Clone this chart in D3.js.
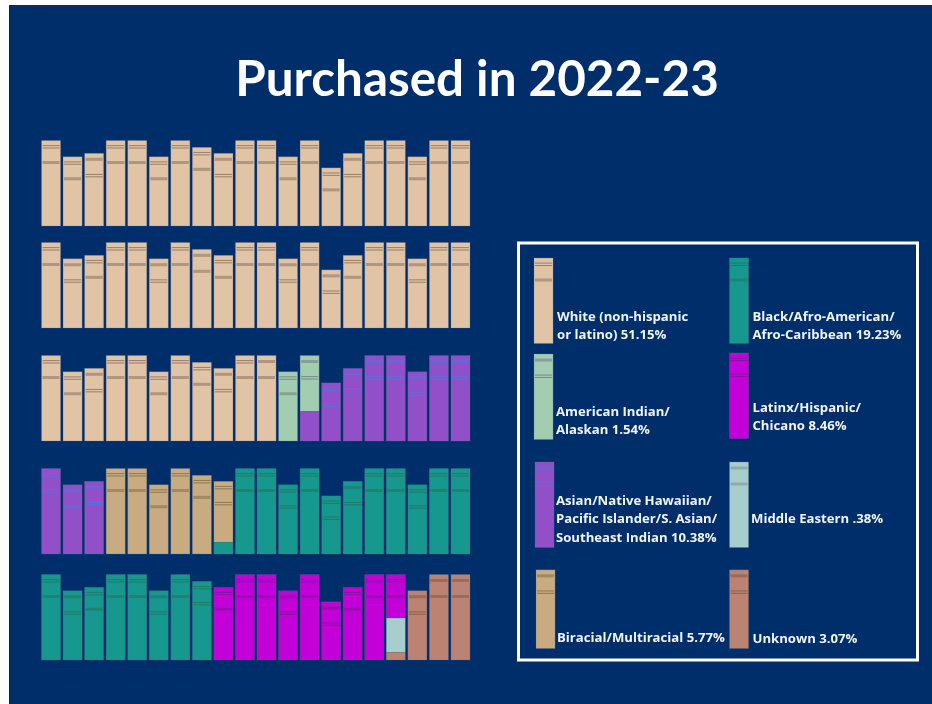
<!DOCTYPE html>
<html>
<head>
<meta charset="utf-8">
<script src="https://cdn.jsdelivr.net/npm/d3@7"></script>
<style>
  html, body { margin: 0; background: #fff; overflow: hidden; }
  text { font-family: "Open Sans", sans-serif; }
</style>
</head>
<body>
<div id="chart"></div>
<script>
// Categories and their share of purchased books
const categories = ["white", "black", "indian", "latinx", "asian", "middle", "biracial", "unknown"];
const legendLines = [
    ["White (non-hispanic", "or latino) 51.15%"],
    ["Black/Afro-American/", "Afro-Caribbean 19.23%"],
    ["American Indian/", "Alaskan 1.54%"],
    ["Latinx/Hispanic/", "Chicano 8.46%"],
    ["Asian/Native Hawaiian/", "Pacific Islander/S. Asian/", "Southeast Indian 10.38%"],
    ["Middle Eastern .38%"],
    ["Biracial/Multiracial 5.77%"],
    ["Unknown 3.07%"]
];
const legendHeights = [100, 100, 100, 100, 100, 100, 92, 92];
const legendBands = ["ds", "ds", "sd", "dd", "sd", "ss", "sd", "sd"];

// Relative height of the 20 books on every shelf
const bookHeights = [100, 81, 85, 100, 100, 81, 100, 92, 85, 100, 100, 81, 100, 68, 85, 100, 100, 81, 100, 100];

// Which category each book belongs to, shelf by shelf
const shelf1 = d3.range(20).map(() => "white");
const shelf2 = d3.range(20).map(() => "white");
const shelf3 = ["white", "white", "white", "white", "white", "white", "white", "white", "white", "white", "white",
    "indian", "indian", "asian", "asian", "asian", "asian", "asian", "asian", "asian"];
const shelf4 = ["asian", "asian", "asian", "biracial", "biracial", "biracial", "biracial", "biracial", "biracial",
    "black", "black", "black", "black", "black", "black", "black", "black", "black", "black", "black"];
const shelf5 = ["black", "black", "black", "black", "black", "black", "black", "black",
    "latinx", "latinx", "latinx", "latinx", "latinx", "latinx", "latinx", "latinx", "latinx",
    "unknown", "unknown", "unknown"];
const shelves = [shelf1, shelf2, shelf3, shelf4, shelf5];

// Books shared between categories: shelf, book, [category, share] from the top down
const splitBooks = [
    [2, 12, [["indian", 0.65], ["asian", 0.35]]],
    [3, 8, [["biracial", 0.84], ["black", 0.16]]],
    [4, 16, [["latinx", 0.51], ["middle", 0.40], ["unknown", 0.09]]]
];

// Spine decoration, d = double line, s = solid band
const bands1 = "ds ds sd ds ds ds ds ds sd ds ds ds ds ds sd ds ds ds ds ds".split(" ");
const bands2 = "ds sd ds ds ds sd ds ss ds ds ds sd ds sd ds ds ds sd ds ds".split(" ");
const bands3 = "ds ds sd ds ds ds ds ds sd ds ss ds sd dd sd sd sd sd sd sd".split(" ");
const bands4 = "dd ss sd ds ds ds ds ds dd ds ds dd ds dd sd ds ds dd ds ds".split(" ");
const bands5 = "ds sd ds ds ds sd ds dd ds ds ds sd ds sd ds ds ds sd ss ss".split(" ");
const shelfBands = [bands1, bands2, bands3, bands4, bands5];

const color = d3.scaleOrdinal()
    .domain(categories)
    .range(["#e1c3a6", "#16988f", "#a2cdb0", "#c300d8", "#9150c8", "#a8cdcd", "#c8ab80", "#bc8272"]);

const bandColor = d3.scaleOrdinal()
    .domain(categories)
    .range(["#7d6a58", "#276f5c", "#6f7280", "#6f1f8c", "#4c78e2", "#77888a", "#786846", "#755646"]);

const svg = d3.select("#chart")
    .append("svg")
    .attr("width", 932)
    .attr("height", 704)
    .style("display", "block");

// The reference is a slightly soft screenshot
const soft = svg.append("defs").append("filter").attr("id", "soft");
soft.append("feGaussianBlur").attr("stdDeviation", 0.45);

svg.append("rect")
    .attr("x", 9)
    .attr("y", 5)
    .attr("width", 923)
    .attr("height", 699)
    .attr("fill", "#002e6b");

svg.append("text")
    .attr("x", 477)
    .attr("y", 96)
    .attr("text-anchor", "middle")
    .attr("fill", "#fff")
    .style("font-family", "Lato, sans-serif")
    .style("font-size", "49.4px")
    .style("font-weight", "700")
    .text("Purchased in 2022-23");

const x = d3.scaleBand()
    .domain(d3.range(20))
    .range([41.5, 470])
    .paddingInner(0.115);

const shelfY = d3.scaleOrdinal()
    .domain(d3.range(5))
    .range([226, 328, 441, 554, 660]);

const bookLength = d3.scaleLinear().domain([0, 100]).range([0, 85.5]);

function drawBook(g, left, bottom, value, parts, kinds) {
    const w = x.bandwidth();
    const h = bookLength(value);
    const top = bottom - h;
    const share = d3.scaleLinear().domain([0, 1]).range([top, bottom]);

    let start = 0;
    parts.forEach(p => {
        g.append("rect")
            .attr("x", left)
            .attr("y", share(start))
            .attr("width", w)
            .attr("height", share(start + p[1]) - share(start))
            .attr("fill", color(p[0]));
        start += p[1];
    });

    // Soft edge round the spine
    g.append("rect")
        .attr("x", left)
        .attr("y", top)
        .attr("width", w)
        .attr("height", h)
        .attr("fill", "none")
        .attr("stroke", "#5b6f90")
        .attr("stroke-opacity", 0.3)
        .attr("stroke-width", 0.8);

    const ink = bandColor(parts[0][0]);
    [6, 22].forEach((offset, i) => {
        if (kinds[i] === "s") {
            g.append("rect")
                .attr("x", left + 1)
                .attr("y", top + offset - 1.5)
                .attr("width", w - 2)
                .attr("height", 3)
                .attr("fill", ink)
                .attr("opacity", 0.5);
        } else {
            [-1.4, 1].forEach(d => {
                g.append("rect")
                    .attr("x", left + 1)
                    .attr("y", top + offset + d)
                    .attr("width", w - 2)
                    .attr("height", 1)
                    .attr("fill", ink)
                    .attr("opacity", 0.75);
            });
        }
    });
}

const bookshelf = svg.append("g").attr("filter", "url(#soft)");
shelves.forEach((shelf, s) => {
    shelf.forEach((cat, b) => {
        const split = splitBooks.find(d => d[0] === s && d[1] === b);
        const parts = split ? split[2] : [[cat, 1]];
        drawBook(bookshelf.append("g"), x(b), shelfY(s), bookHeights[b], parts, shelfBands[s][b]);
    });
});

// Legend
svg.append("rect")
    .attr("x", 518.5)
    .attr("y", 243)
    .attr("width", 399)
    .attr("height", 417)
    .attr("fill", "none")
    .attr("stroke", "#fff")
    .attr("stroke-width", 3);

// Where each legend entry sits: book left, book bottom, text left, first baseline
const legendLayout = [
    [534, 343.5, 557, 321],
    [729.5, 343.5, 752.5, 321],
    [534, 439.5, 556, 416],
    [729.5, 438.5, 752.5, 412],
    [535, 547.5, 556, 505],
    [729.5, 547.5, 751, 523],
    [536, 648.5, 557, 642],
    [729.5, 648.5, 752.5, 643]
];

const legendBooks = svg.append("g").attr("filter", "url(#soft)");
const legend = svg.append("g");
categories.forEach((cat, i) => {
    const pos = legendLayout[i];
    drawBook(legendBooks.append("g"), pos[0], pos[1], legendHeights[i], [[cat, 1]], legendBands[i]);
    legendLines[i].forEach((line, j) => {
        legend.append("text")
            .attr("x", pos[2])
            .attr("y", pos[3] + j * 18.3)
            .attr("fill", "#f1f4f8")
            .style("font-size", "13.15px")
            .style("font-weight", "700")
            .text(line);
    });
});
</script>
</body>
</html>
